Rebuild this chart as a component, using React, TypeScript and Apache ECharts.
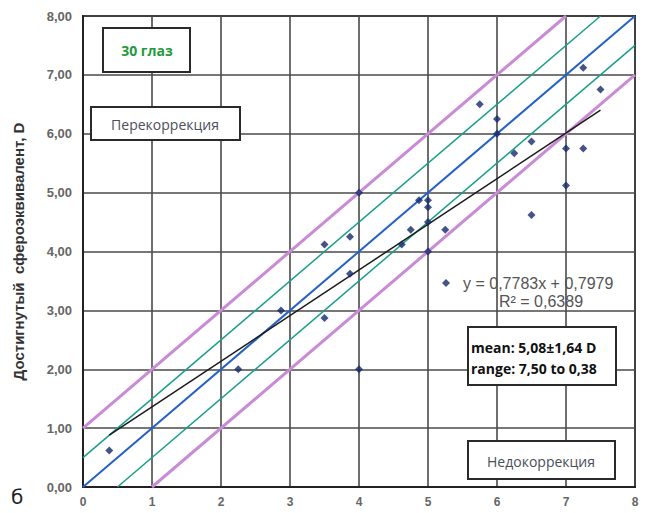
import React, { useEffect, useRef } from "react";
import * as echarts from "echarts";

const dataPoints: [number, number][] = [
  [0.38, 0.62], [2.25, 2.0], [2.87, 3.0], [3.5, 2.87], [3.5, 4.12],
  [3.87, 4.25], [3.87, 3.62], [4.0, 5.0], [4.0, 2.0], [4.62, 4.12],
  [4.75, 4.37], [4.87, 4.87], [5.0, 4.87], [5.0, 4.75], [5.0, 4.5],
  [5.0, 4.0], [5.25, 4.37], [5.75, 6.5], [6.0, 6.25], [6.0, 6.0],
  [6.25, 5.67], [6.5, 5.87], [6.5, 4.62], [7.0, 5.75], [7.0, 5.12],
  [7.25, 5.75], [7.25, 7.12], [7.5, 6.75],
];
const identityLine: [number, number][] = [[0, 0], [8, 8]];
const upperHalfLine: [number, number][] = [[0, 0.5], [7.5, 8]];
const lowerHalfLine: [number, number][] = [[0.5, 0], [8, 7.5]];
const upperOneLine: [number, number][] = [[0, 1], [7, 8]];
const lowerOneLine: [number, number][] = [[1, 0], [8, 7]];
const trendLine: [number, number][] = [[0.38, 0.88], [7.5, 6.4]];

const equationText = "y = 0,7783x + 0,7979";
const r2Text = "R² = 0,6389";
const eyesText = "30 глаз";
const overText = "Перекоррекция";
const underText = "Недокоррекция";
const statsLines = ["mean: 5,08±1,64 D", "range: 7,50 to 0,38"];
const yAxisName = "Достигнутый  сфероэквивалент, D";

export default function App() {
  const ref = useRef<HTMLDivElement>(null);
  useEffect(() => {
    if (!ref.current) return;
    const chart = echarts.init(ref.current, undefined, { renderer: "svg" });
    const lineSeries = (data: [number, number][], color: string, width: number) => ({
      type: "line",
      data,
      showSymbol: false,
      symbol: "none",
      silent: true,
      lineStyle: { color, width },
      z: 2,
    });
    const box = (x: number, y: number, w: number, h: number) => ({
      type: "rect",
      shape: { x, y, width: w, height: h },
      style: { fill: "#fff", stroke: "#2a2a2a", lineWidth: 2 },
      z: 10,
    });
    const txt = (x: number, y: number, text: string, font: string, fill: string, align = "center") => ({
      type: "text",
      x,
      y,
      style: { text, font, fill, align, verticalAlign: "middle" },
      z: 11,
    });
    chart.setOption({
      animation: false,
      grid: { left: 83, right: 15, top: 16, bottom: 26, show: true, borderColor: "#222", borderWidth: 2 },
      xAxis: {
        type: "value",
        min: 0,
        max: 8,
        interval: 1,
        axisLine: { show: true, lineStyle: { color: "#222", width: 2 } },
        axisTick: { show: false },
        axisLabel: { color: "#666", fontWeight: "bold", fontSize: 12, margin: 9, fontFamily: "Liberation Sans" },
        splitLine: { show: true, lineStyle: { color: "#4a4a4a", width: 1.6 } },
      },
      yAxis: {
        type: "value",
        min: 0,
        max: 8,
        interval: 1,
        name: yAxisName,
        nameLocation: "middle",
        nameGap: 57,
        nameTextStyle: { color: "#333", fontWeight: "bold", fontSize: 15, fontFamily: "Liberation Sans" },
        axisLine: { show: true, lineStyle: { color: "#222", width: 2 } },
        axisTick: { show: false },
        axisLabel: {
          color: "#666",
          fontWeight: "bold",
          fontSize: 13,
          margin: 11,
          fontFamily: "Liberation Sans",
          formatter: (v: number) => v.toFixed(2).replace(".", ","),
        },
        splitLine: { show: true, lineStyle: { color: "#4a4a4a", width: 1.6 } },
      },
      legend: {
        show: true,
        data: [{ name: equationText, icon: "diamond" }],
        left: 437,
        top: 270,
        itemWidth: 8,
        itemHeight: 8,
        textStyle: { color: "#555", fontSize: 16, fontFamily: "Liberation Sans", padding: [0, 0, 0, 8] },
        selectedMode: false,
      },
      series: [
        lineSeries(upperOneLine, "#c98ad6", 3),
        lineSeries(lowerOneLine, "#c98ad6", 3),
        lineSeries(upperHalfLine, "#1a9e8a", 1.5),
        lineSeries(lowerHalfLine, "#1a9e8a", 1.5),
        lineSeries(identityLine, "#2462c4", 2),
        lineSeries(trendLine, "#1a1a1a", 1.5),
        {
          type: "scatter",
          name: equationText,
          data: dataPoints,
          symbol: "diamond",
          symbolSize: 8,
          itemStyle: { color: "#15296b" },
          z: 5,
        },
      ],
      graphic: [
        box(103, 28, 87, 44),
        txt(147, 50, eyesText, "bold 14px 'Open Sans'", "#1f9a3c"),
        box(91, 107, 149, 33),
        txt(165, 124, overText, "14px 'Open Sans'", "#4a4f5a"),
        box(468, 327, 148, 58),
        txt(471, 347, statsLines[0], "bold 14px 'Open Sans'", "#111", "left"),
        txt(471, 368, statsLines[1], "bold 14px 'Open Sans'", "#111", "left"),
        box(468, 441, 147, 38),
        txt(541, 461, underText, "14px 'Open Sans'", "#4a4f5a"),
        txt(541, 301, r2Text, "16px 'Liberation Sans'", "#555"),
        txt(11, 497, "б", "20px 'DejaVu Sans'", "#222", "left"),
      ],
    });
    return () => chart.dispose();
  }, []);
  return (
    <div
      ref={ref}
      style={{ position: "fixed", left: 0, top: 0, width: 650, height: 513, background: "#fff" }}
    />
  );
}
